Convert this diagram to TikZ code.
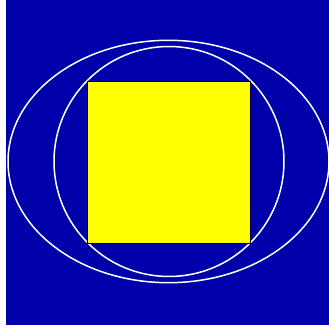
\documentclass[tikz,border=0pt]{standalone}
\usepackage{xcolor}
\usepackage{tikz}
\definecolor{BackBlue}{HTML}{0000AA}
\definecolor{BoxYellow}{HTML}{FFFF00}

\begin{document}
\begin{tikzpicture}[
  x=1pt,y=-1pt,
  ring/.style={draw=white,line width=1.5pt},
  block/.style={draw=black,line width=0.4pt,fill=BoxYellow},
]
  \useasboundingbox (0,0) rectangle (329,328);
  \fill[BackBlue] (6,0) rectangle (329,324.5);

  \coordinate (middle) at (168.5,161.5);
  \draw[ring] (middle) ellipse [x radius=160.5,y radius=121.2];
  \draw[ring] ([xshift=0.5pt]middle) circle [radius=115];
  \draw[block] (87.5,81) rectangle (250.2,243.2);
\end{tikzpicture}
\end{document}
